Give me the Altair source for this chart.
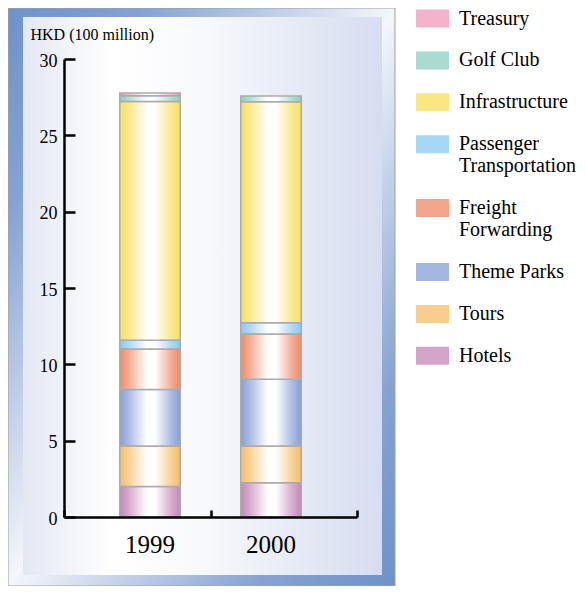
import altair as alt
import pandas as pd

# ---- data ----
years = ["1999", "2000"]
# stacking order, bottom to top
categories = ["Hotels", "Tours", "Theme Parks", "Freight Forwarding",
              "Passenger Transportation", "Infrastructure", "Golf Club", "Treasury"]
values_1999 = [2.0, 2.65, 3.7, 2.65, 0.57, 15.65, 0.38, 0.17]
values_2000 = [2.25, 2.4, 4.37, 2.96, 0.74, 14.48, 0.37, 0.0]
y_ticks = [0, 5, 10, 15, 20, 25, 30]
y_title = "HKD (100 million)"

legend_order = list(reversed(categories))
legend_colors = ["#f09ab8", "#8fcfc0", "#f7df5e", "#86cbf0",
                 "#ee8a66", "#869fd6", "#f5bd6a", "#c488b7"]

rows = []
for yr, vals in zip(years, [values_1999, values_2000]):
    for i, (c, v) in enumerate(zip(categories, vals)):
        rows.append({"Year": yr, "Category": c, "Value": v, "stack_order": i})
df = pd.DataFrame(rows)

FONT = "Liberation Serif"
W, H = 293, 458

bar_x_scale = alt.Scale(paddingInner=0.5, paddingOuter=0.4607)
y_scale = alt.Scale(domain=[0, 30], nice=False)

# ---- decorative panel ----
panel_df = pd.DataFrame({"k": [0]})
outer = alt.Chart(panel_df).mark_rect(
    fill=alt.LinearGradient(
        gradient="linear", x1=0, y1=0, x2=1, y2=1,
        stops=[alt.GradientStop(color="#6e92ca", offset=0),
               alt.GradientStop(color="#86a3d2", offset=0.18),
               alt.GradientStop(color="#f4f6fb", offset=0.5),
               alt.GradientStop(color="#86a3d2", offset=0.82),
               alt.GradientStop(color="#6e92ca", offset=1)]),
    stroke="#a0a0a0", strokeWidth=1,
).encode(x=alt.value(-56), x2=alt.value(331), y=alt.value(-51), y2=alt.value(527))

inner = alt.Chart(panel_df).mark_rect(
    fill=alt.LinearGradient(
        gradient="linear", x1=0, y1=0, x2=1, y2=0,
        stops=[alt.GradientStop(color="#e4e8f4", offset=0),
               alt.GradientStop(color="#ffffff", offset=0.25),
               alt.GradientStop(color="#f8f9fc", offset=0.5),
               alt.GradientStop(color="#d6ddf0", offset=1)]),
).encode(x=alt.value(-41), x2=alt.value(318), y=alt.value(-42), y2=alt.value(516))

base = alt.Chart(df).transform_filter("datum.Value > 0")

bars = base.mark_bar().encode(
    x=alt.X("Year:N", scale=bar_x_scale,
            axis=alt.Axis(orient="bottom", title=None, domain=False, ticks=False,
                          tickSize=0, labelAngle=0, labelFontSize=25,
                          labelPadding=15, labelFont=FONT, labelColor="black",
                          zindex=2)),
    y=alt.Y("Value:Q", stack="zero", scale=y_scale,
            axis=alt.Axis(orient="left", values=y_ticks, grid=False, domain=False,
                          ticks=False, tickSize=0, labelPadding=7, labelFontSize=18,
                          labelOffset=2, labelFont=FONT, labelColor="black",
                          title=y_title, titleAngle=0, titleX=-34, titleY=-20,
                          titleAlign="left", titleBaseline="alphabetic",
                          titleFontSize=16, titleFontWeight="normal",
                          titleFont=FONT, titleColor="black", zindex=2)),
    color=alt.Color("Category:N",
                    scale=alt.Scale(domain=legend_order, range=legend_colors),
                    legend=alt.Legend(
                        orient="none", legendX=352, legendY=-57, title=None,
                        padding=0,
                        symbolType="M-1,-0.545L1,-0.545L1,0.545L-1,0.545Z",
                        symbolSize=1089, symbolStrokeWidth=0, symbolOpacity=0.75,
                        labelFont=FONT, labelFontSize=20, labelColor="black",
                        labelOffset=10, labelLimit=250, rowPadding=14.9,
                        labelExpr=("datum.label == 'Passenger Transportation' ? "
                                   "['Passenger', 'Transportation'] : "
                                   "datum.label == 'Freight Forwarding' ? "
                                   "['Freight', 'Forwarding'] : datum.label"))),
    order=alt.Order("stack_order:Q"),
)

shine = base.mark_bar(
    fill=alt.LinearGradient(
        gradient="linear", x1=0, y1=0, x2=1, y2=0,
        stops=[alt.GradientStop(color="rgba(255,255,255,0)", offset=0),
               alt.GradientStop(color="rgba(255,255,255,0.3)", offset=0.15),
               alt.GradientStop(color="rgba(255,255,255,1)", offset=0.45),
               alt.GradientStop(color="rgba(255,255,255,1)", offset=0.58),
               alt.GradientStop(color="rgba(255,255,255,0.3)", offset=0.85),
               alt.GradientStop(color="rgba(255,255,255,0)", offset=1)]),
    stroke="#ababab", strokeWidth=1.5,
).encode(
    x=alt.X("Year:N", scale=bar_x_scale, axis=None),
    y=alt.Y("Value:Q", stack="zero", scale=y_scale, axis=None),
    detail="Category:N",
    order=alt.Order("stack_order:Q"),
)

axes = base.mark_bar(opacity=0).encode(
    x=alt.X("Year:N", scale=alt.Scale(paddingInner=0, paddingOuter=0),
            axis=alt.Axis(orient="top", offset=-H, labels=False, title=None,
                          domain=True, domainColor="black", domainWidth=2.5,
                          ticks=True, tickSize=7, tickWidth=2.5, tickColor="black",
                          tickBand="extent", grid=False, zindex=3)),
    y=alt.Y("Value:Q", stack="zero", scale=y_scale,
            axis=alt.Axis(orient="right", offset=-W, labels=False, title=None,
                          values=y_ticks, domain=True, domainColor="black",
                          domainWidth=2.5, ticks=True, tickSize=11, tickWidth=2.5,
                          tickColor="black", grid=False, zindex=3)),
    detail="Category:N",
    order=alt.Order("stack_order:Q"),
)

chart = alt.layer(outer, inner, bars, shine, axes).resolve_scale(
    x="independent"
).resolve_axis(
    x="independent", y="independent"
).properties(
    width=W, height=H,
    autosize=alt.AutoSizeParams(type="none"),
    padding={"left": 56, "top": 51, "right": 220, "bottom": 69},
    background="white",
).configure_view(stroke=None)

chart.save("out.html", embed_options={"renderer": "svg", "actions": False})
